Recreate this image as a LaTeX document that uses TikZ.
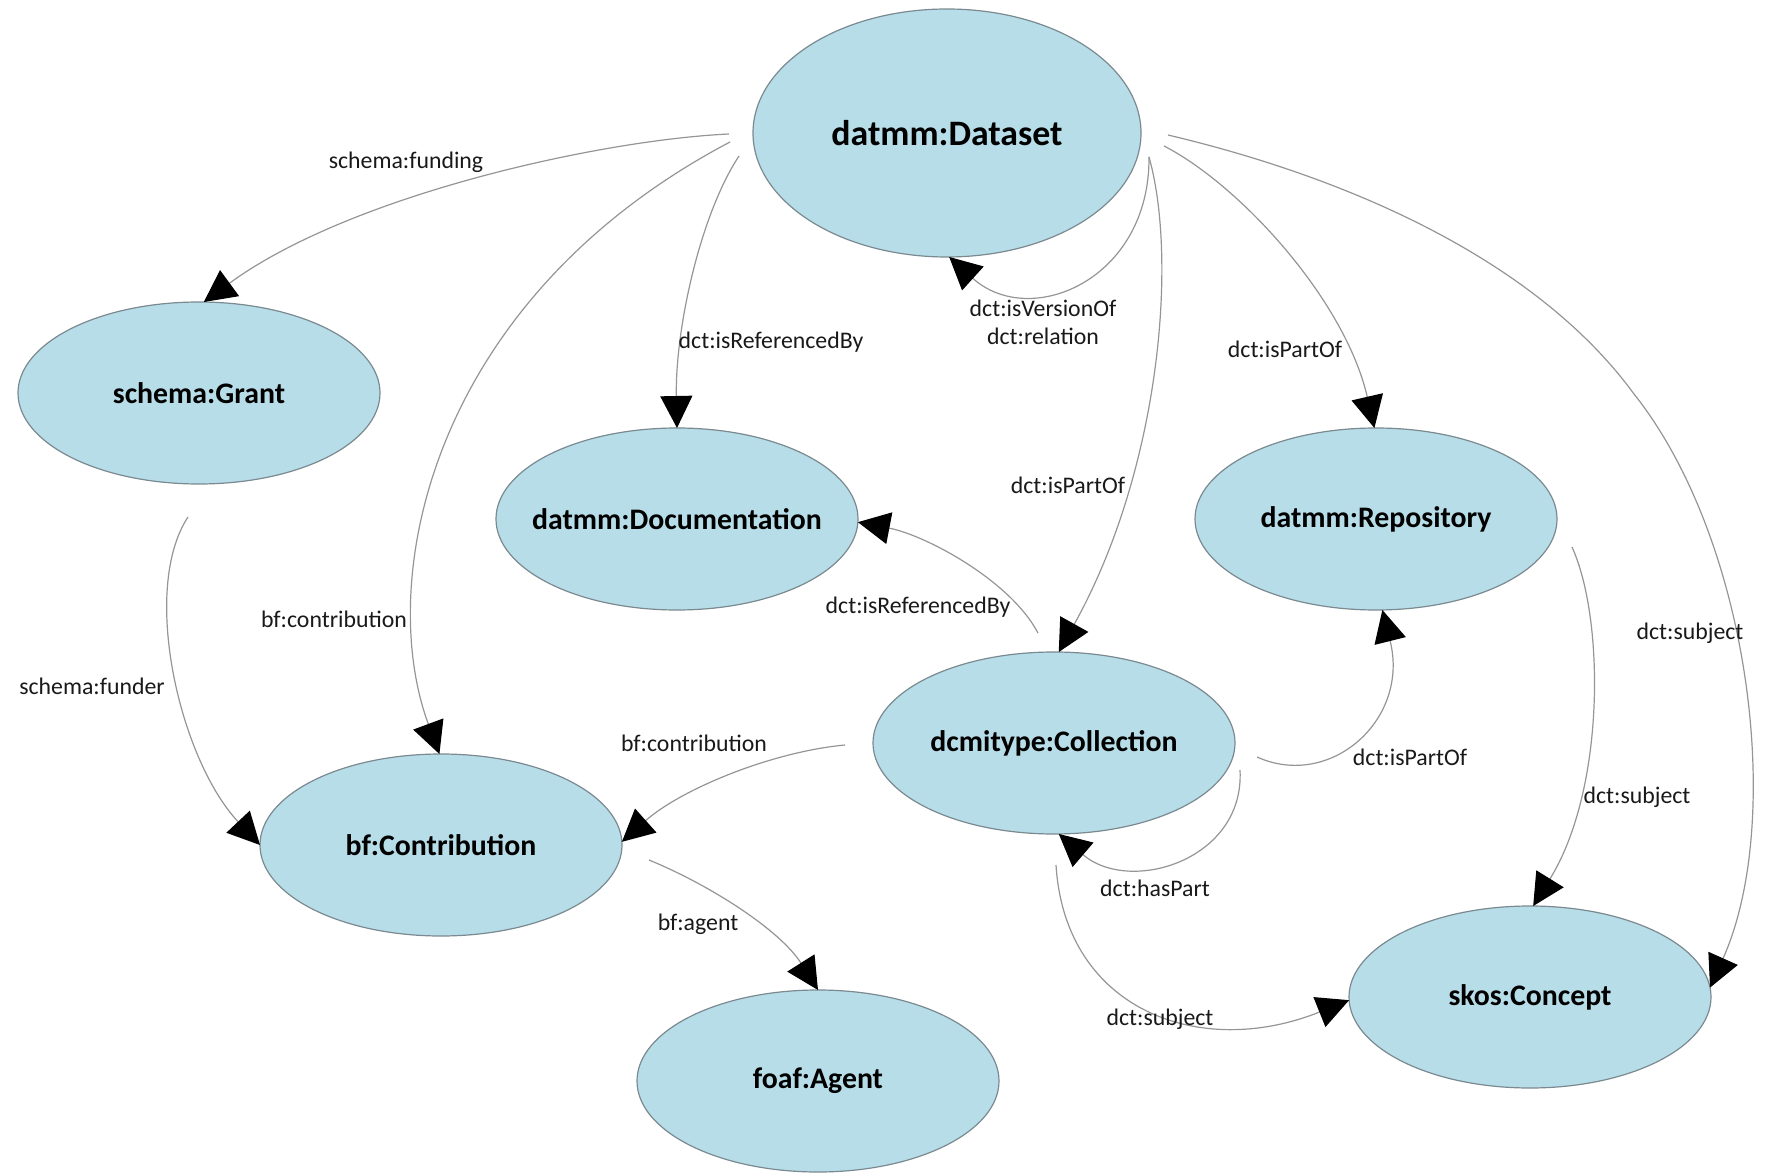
\documentclass[tikz,border=0pt]{standalone}
\usepackage{fontspec}
\setmainfont{Carlito}
\usetikzlibrary{arrows.meta,shapes.geometric}
\definecolor{entfill}{HTML}{B7DDE8}
\definecolor{entline}{HTML}{7A8A90}
\definecolor{edgecol}{HTML}{959595}
\newcommand{\entl}[1]{\makebox[0pt]{#1}}
\begin{document}
\begin{tikzpicture}[x=0.5pt,y=-0.5pt,
 ent/.style={ellipse, draw=entline, fill=entfill, line width=0.6pt, minimum width=181pt, minimum height=91pt, inner sep=0pt, outer sep=0pt, font=\fontsize{14.9}{18}\selectfont\bfseries},
 bigent/.style={ent, minimum width=194pt, minimum height=124pt, font=\fontsize{17.9}{21}\selectfont\bfseries},
 rel/.style={draw=edgecol, line width=0.6pt, -{Triangle[length=16pt,width=16pt,color=black,fill=black]}},
 elab/.style={inner sep=0pt, font=\fontsize{11.9}{14}\selectfont, text=black!90, align=center},
]
\useasboundingbox (0,0) rectangle (1767,1176);

% entities
\node[bigent] (ds) at (947,133) {\entl{datmm:Dataset}};
\node[ent] (grant) at (199,393) {\entl{schema:Grant}};
\node[ent] (doc) at (677,519) {\entl{datmm:Documentation}};
\node[ent] (repo) at (1376,519) {\entl{datmm:Repository}};
\node[ent] (coll) at (1054,743) {\entl{dcmitype:Collection}};
\node[ent] (contr) at (441,845) {\entl{bf:Contribution}};
\node[ent] (agent) at (818,1081) {\entl{foaf:Agent}};
\node[ent] (concept) at (1530,997) {\entl{skos:Concept}};

% free connector ends
\coordinate (s1) at (729,134);
\coordinate (s2) at (730,142);
\coordinate (s3) at (739,156);
\coordinate (s4) at (1149,157);
\coordinate (s6) at (1164,146);
\coordinate (s7) at (1168,135);
\coordinate (m7) at (1634,394);
\coordinate (s8) at (188,517);
\coordinate (s9) at (1038,633);
\coordinate (s10) at (845,745);
\coordinate (s11) at (649,860);
\coordinate (s12) at (1257,757);
\coordinate (s13) at (1240,770);
\coordinate (s14) at (1056,865);
\coordinate (s15) at (1572,547);

% connectors
\draw[rel] (s1) .. controls (600,140) and (350,195) .. (grant.87.5);
\draw[rel] (s2) .. controls (430,300) and (375,580) .. (contr.91);
\draw[rel] (s3) .. controls (700,215) and (675,330) .. (doc.90);
\draw[rel] (s4) .. controls (1150,280) and (1030,330) .. (ds.-89);
\draw[rel] (s4) .. controls (1178,260) and (1160,470) .. (coll.87);
\draw[rel] (s6) .. controls (1240,185) and (1345,300) .. (repo.91);
\draw[rel] (s7) .. controls (1358,180) and (1539,264) .. (m7) .. controls (1750,540) and (1785,820) .. (concept.3);
\draw[rel] (s8) .. controls (140,590) and (180,760) .. (contr.180);
\draw[rel] (s9) .. controls (1010,580) and (925,535) .. (doc.-1);
\draw[rel] (s10) .. controls (770,752) and (680,790) .. (contr.1);
\draw[rel] (s11) .. controls (710,885) and (780,930) .. (agent.90);
\draw[rel] (s12) .. controls (1330,790) and (1410,720) .. (repo.-86);
\draw[rel] (s13) .. controls (1245,860) and (1130,895) .. (coll.-87.5);
\draw[rel] (s14) .. controls (1065,1010) and (1200,1060) .. (concept.181);
\draw[rel] (s15) .. controls (1605,620) and (1605,790) .. (concept.88);

% labels
\node[elab] (l1) at (406,162) {schema:funding};
\node[elab] (l2) at (334,619) {bf:contribution};
\node[elab] (l3) at (771,342) {dct:isReferencedBy};
\node[elab] (l4) at (1043,322) {dct:isVersionOf\\dct:relation};
\node[elab] (l5) at (1068,485) {dct:isPartOf};
\node[elab] (l6) at (1285,349) {dct:isPartOf};
\node[elab] (l7) at (1690,633) {dct:subject};
\node[elab] (l8) at (92,686) {schema:funder};
\node[elab] (l9) at (918,607) {dct:isReferencedBy};
\node[elab] (l10) at (694,743) {bf:contribution};
\node[elab] (l11) at (698,924) {bf:agent};
\node[elab] (l12) at (1410,757) {dct:isPartOf};
\node[elab] (l13) at (1155,888) {dct:hasPart};
\node[elab] (l14) at (1160,1019) {dct:subject};
\node[elab] (l15) at (1637,797) {dct:subject};
\end{tikzpicture}
\end{document}
